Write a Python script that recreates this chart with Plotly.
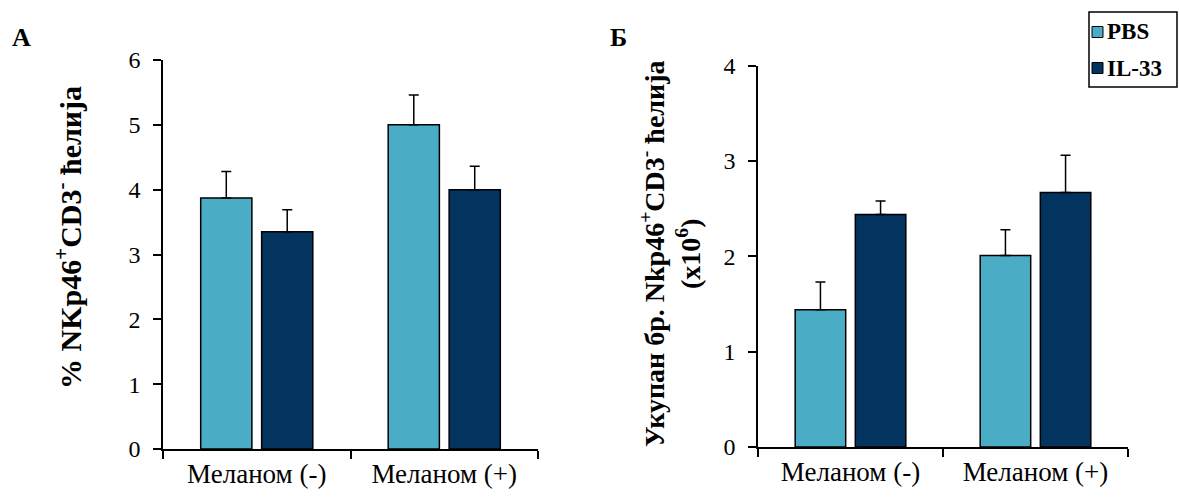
import plotly.graph_objects as go

categories = ["Меланом (-)", "Меланом (+)"]
series_names = ["PBS", "IL-33"]
colors = ["#4BACC6", "#02345F"]

# Panel A: % NKp46+CD3- cells
a_pbs = [3.87, 5.00]
a_pbs_err = [0.41, 0.46]
a_il33 = [3.35, 4.00]
a_il33_err = [0.34, 0.36]

# Panel B: total number (x10^6)
b_pbs = [1.44, 2.01]
b_pbs_err = [0.29, 0.27]
b_il33 = [2.44, 2.67]
b_il33_err = [0.14, 0.39]

a_ticks = [0, 1, 2, 3, 4, 5, 6]
b_ticks = [0, 1, 2, 3, 4]

FONT = "Liberation Serif, Times New Roman, serif"

fig = go.Figure()

def add_bars(vals, errs, name, color, xa, ya):
    fig.add_trace(go.Bar(
        x=categories, y=vals, name=name,
        marker=dict(color=color, line=dict(color="black", width=1.5)),
        error_y=dict(type="data", array=errs, arrayminus=[0] * len(errs),
                     symmetric=False, color="black", thickness=1.5, width=5),
        xaxis=xa, yaxis=ya, showlegend=False,
    ))

add_bars(a_pbs, a_pbs_err, series_names[0], colors[0], "x", "y")
add_bars(a_il33, a_il33_err, series_names[1], colors[1], "x", "y")
add_bars(b_pbs, b_pbs_err, series_names[0], colors[0], "x2", "y2")
add_bars(b_il33, b_il33_err, series_names[1], colors[1], "x2", "y2")

W, H = 1179, 497

xcommon = dict(type="category", range=[-0.5, 1.5], showline=True, linecolor="black",
               linewidth=1.5, ticks="outside", tickson="boundaries", ticklen=8,
               tickwidth=1.5, tickcolor="black", showgrid=False, zeroline=False,
               tickfont=dict(family=FONT, size=27, color="black"))
ycommon = dict(showline=True, linecolor="black", linewidth=1.5, ticks="outside",
               ticklen=8, tickwidth=1.5, tickcolor="black", showgrid=False,
               zeroline=False, tickfont=dict(family=FONT, size=24, color="black"),
               ticklabelstandoff=8)

# Legend (drawn in paper pixels)
def px(x):
    return x / W

def py(y):
    return 1 - y / H

shapes = [dict(type="rect", xref="paper", yref="paper",
               x0=px(1089), x1=px(1177), y0=py(87), y1=py(12),
               line=dict(color="black", width=1.5), fillcolor="white", layer="above")]
annotations = []
legend_rows = [32, 68]
for name, color, yc in zip(series_names, colors, legend_rows):
    shapes.append(dict(type="rect", xref="paper", yref="paper",
                       x0=px(1092), x1=px(1103), y0=py(yc + 5.5), y1=py(yc - 5.5),
                       line=dict(color="black", width=1), fillcolor=color, layer="above"))
    annotations.append(dict(text=f"<b>{name}</b>", x=px(1105), y=py(yc), xref="paper",
                            yref="paper", xanchor="left", yanchor="middle",
                            showarrow=False,
                            font=dict(family=FONT, size=23, color="black")))

annotations += [
    dict(text="<b>A</b>", x=px(10), y=py(37), xref="paper", yref="paper",
         xanchor="left", yanchor="middle", showarrow=False,
         font=dict(family=FONT, size=26, color="black")),
    dict(text="<b>Б</b>", x=px(608), y=py(37), xref="paper", yref="paper",
         xanchor="left", yanchor="middle", showarrow=False,
         font=dict(family=FONT, size=26, color="black")),
    dict(text="<b>% NKp46<sup>+</sup>CD3<sup>-</sup> ћелија</b>", x=px(68), y=py(238),
         xref="paper", yref="paper", xanchor="center", yanchor="middle",
         textangle=-90, showarrow=False,
         font=dict(family=FONT, size=30, color="black")),
    dict(text="<b>Укупан бр. Nkp46<sup>+</sup>CD3<sup>-</sup> ћелија<br>(x10<sup>6</sup>)</b>",
         x=px(670), y=py(254),
         xref="paper", yref="paper", xanchor="center", yanchor="middle",
         textangle=-90, showarrow=False,
         font=dict(family=FONT, size=28, color="black")),
]

fig.update_layout(
    width=W, height=H,
    margin=dict(l=0, r=0, t=0, b=0, autoexpand=False),
    plot_bgcolor="white", paper_bgcolor="white",
    barmode="group", bargap=0.35, bargroupgap=0.16,
    font=dict(family=FONT, color="black"),
    showlegend=False,
    xaxis=dict(domain=[163 / W, 538 / W], anchor="y", **xcommon),
    yaxis=dict(domain=[(H - 449) / H, (H - 60) / H], anchor="x", range=[0, 6],
               tickvals=a_ticks, **ycommon),
    xaxis2=dict(domain=[758 / W, 1128 / W], anchor="y2", **xcommon),
    yaxis2=dict(domain=[(H - 447) / H, (H - 65.7) / H], anchor="x2", range=[0, 4],
                tickvals=b_ticks, **ycommon),
    shapes=shapes,
    annotations=annotations,
)

fig.write_html("out.html")
